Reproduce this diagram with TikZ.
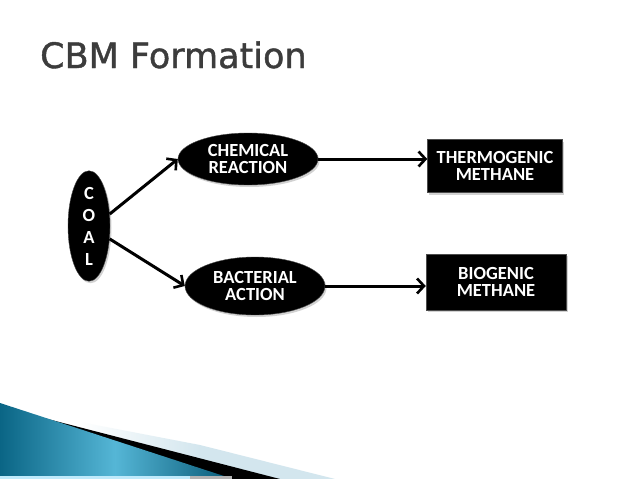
\documentclass[tikz,border=0pt]{standalone}
\usepackage{fontspec}
\setmainfont{Carlito}
\newfontfamily\titlefont[FakeBold=1.2]{DejaVu Sans}
\usetikzlibrary{arrows.meta,shapes.geometric,shadows}
\definecolor{titlegray}{HTML}{3C3C3C}
\definecolor{tealdark}{HTML}{0A6585}
\definecolor{teallight}{HTML}{55B6D6}
\definecolor{paleblue}{HTML}{D3E6EE}
\tikzset{
  blob/.style={ellipse, fill=black, draw=black!70, line width=0.4pt, inner sep=0pt,
    text=white, font=\bfseries\fontsize{18.5}{17.5}\selectfont, align=center,
    drop shadow={shadow xshift=1.5pt, shadow yshift=-2pt, opacity=0.35}},
  boxnode/.style={rectangle, fill=black, draw=black!70, line width=0.4pt, inner sep=0pt,
    text=white, font=\bfseries\fontsize{18.5}{17.5}\selectfont, align=center,
    drop shadow={shadow xshift=1.5pt, shadow yshift=-2pt, opacity=0.35}},
  flow/.style={line width=3pt, draw=black, -{Straight Barb[length=7pt,width=15pt,line width=2.6pt]}}
}
\begin{document}
\begin{tikzpicture}[x=1pt,y=-1pt]
\useasboundingbox (0,0) rectangle (638,479);
\fill[white] (0,0) rectangle (638,479);
% bottom decoration
\shade[left color=white, right color=paleblue] (80,422) -- (200,445) -- (200,479) -- (80,479) -- cycle;
\fill[paleblue] (200,445) -- (335,479) -- (200,479) -- cycle;
\fill[black] (40,417) -- (280,479) -- (0,479) -- (0,417) -- cycle;
\shade[left color=tealdark, right color=tealdark!90!black, middle color=teallight]
  (0,403) -- (230,478) -- (0,478) -- cycle;
\fill[cyan!25] (0,476) rectangle (190,479);
\fill[gray!60] (190,476) rectangle (232,479);
% title
\node[anchor=base west, inner sep=0pt, text=titlegray, font=\titlefont\fontsize{35}{35}\selectfont] (title) at (40,68) {CBM Formation};
% nodes
\node[blob, minimum width=42pt, minimum height=102pt, font=\bfseries\fontsize{18.5}{22}\selectfont] (coal) at (89,226) {C\\O\\A\\L};
\node[blob, minimum width=140pt, minimum height=52pt] (chem) at (248,159) {CHEMICAL\\REACTION};
\node[blob, minimum width=140pt, minimum height=58pt] (bact) at (255,286) {BACTERIAL\\ACTION};
\node[boxnode, minimum width=135pt, minimum height=53pt] (thermo) at (495,166) {THERMOGENIC\\METHANE};
\node[boxnode, minimum width=140pt, minimum height=56pt] (bio) at (496,282) {BIOGENIC\\METHANE};
% connectors
\draw[flow] (coal.30) -- (chem.west);
\draw[flow] (coal.-32) -- (bact.west);
\draw[flow] (chem.east) -- (thermo.west |- chem.east);
\draw[flow] (bact.east) -- (bio.west |- bact.east);
\end{tikzpicture}
\end{document}
